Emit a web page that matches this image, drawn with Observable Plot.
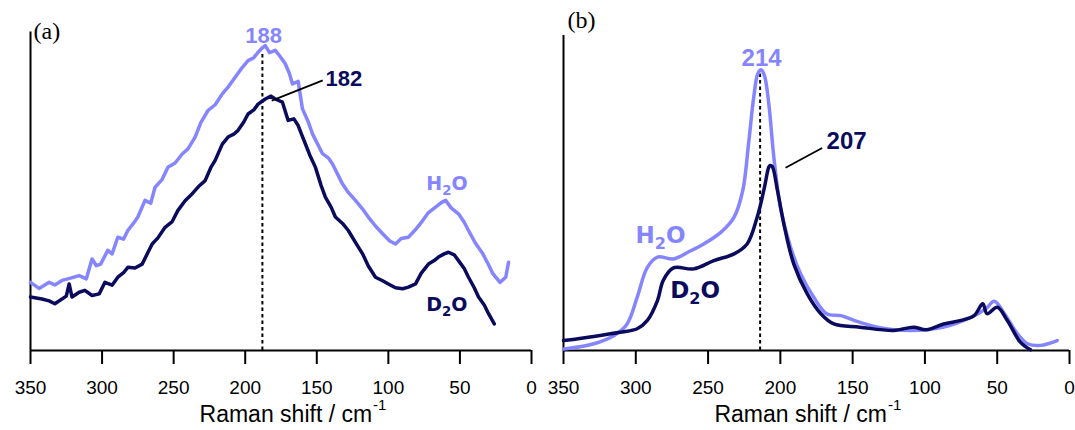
<!DOCTYPE html>
<html><head><meta charset="utf-8">
<script src="https://cdn.jsdelivr.net/npm/d3@7"></script>
<script src="https://cdn.jsdelivr.net/npm/@observablehq/plot@0.6"></script>
<style>
body{margin:0;background:#fff}
#wrap{display:flex;width:1075px;height:430px;overflow:hidden}
#wrap svg{overflow:visible;display:block}
</style>
</head><body><div id="wrap"></div>
<script>
const xTicks = [350, 300, 250, 200, 150, 100, 50, 0];
const colorH2O = "#8585ff";
const colorD2O = "#0b0b5e";
const axisTitle = "Raman shift / cm";
const axisTitleSup = "-1";

// ---- panel (a) ----
const aH2OShift = [350,344,337,333,328,322,316,311,307,304,301,296,293,289,285,282,278,275,270,266,263,258,254,249,244,240,235,231,226,221,216,212,207,203,198,194,191,188,186,183,179,176,172,169,167,163,160,156,153,146,142,139,132,128,123,118,114,109,104,99,95,91,86,81,76,72,67,63,60,56,51,47,44,39,34,30,27,22,18,16];
const aH2OInt   = [21.3,19.4,21.3,20.5,21.9,22.6,23.4,22.4,28.6,26.5,27,31.3,30.2,35.4,34.8,37.5,39.8,41.7,46.9,46,51,53.5,57.3,58.6,61.4,63,66.7,71.2,75,76.8,80.2,82.3,85.4,87.9,90.6,91.5,93.2,94.6,95.3,93.1,93.8,92.1,89.6,86.4,83.3,84.1,75.5,71.5,67.7,61.5,60.2,58.3,52,49.4,46.9,44.2,41.7,38.9,36.5,34.2,33.3,35,35.4,37.8,40.6,43.1,44.8,46.2,46.9,44.5,42.7,40.1,37.5,33.4,30.2,26.8,24,21.3,22.9,27.6];
const aD2OShift = [350,342,337,333,325,323,321,316,312,307,302,298,293,289,285,282,277,272,268,265,261,256,251,247,242,237,232,228,224,221,216,212,208,205,201,198,194,191,186,182,179,174,170,166,163,160,158,155,151,147,144,140,137,132,128,123,118,114,109,104,100,95,90,86,81,77,72,68,65,61,58,54,51,47,44,40,37,33,30,26];
const aD2OInt   = [16.7,16.1,15.5,14.6,17,20.8,16.7,18.2,18.8,17.2,17.7,21.3,20.4,22.9,24.3,26,25.8,27,30.6,33.3,35.2,38.5,40.3,43.8,46.8,49,51.5,53.1,57.2,59.4,64.5,66.7,67.6,68.8,71.4,73.9,75.2,77,78.6,79.5,78.6,77.6,71.9,72.4,70.3,66.8,64.6,61.2,57.3,51.6,47.9,44.8,41.7,39.7,37.5,33.8,30.2,26.4,22.9,21.8,20.8,19.6,19.3,19.8,20.8,24.2,27,28.1,29.2,30.2,30.7,29.9,28.1,25.6,22.9,19.6,16.7,14.2,11.5,8.3];
const aPeakH2O = 188, aPeakD2O = 182;

// ---- panel (b) ----
const bH2OShift = [350,347,329,315,306,299,292,285,274,264,253,241,232,226,222,218.4,215.6,213.3,211,208,204.5,200,193,186,177,168,158,149,133,110,87,68,58,52,45,36,29,20,8.5];
const bH2OInt   = [0.5,0.6,2.1,4.7,8.3,16.7,26,29.2,28.6,30.7,33.3,37,41.7,50,64.6,79.2,86.5,87.7,85.9,77.1,60.4,44.8,32.3,24,16.7,11.5,10.9,9.4,7.3,6.25,7.3,10.4,13,15.4,11.5,5.2,2.1,1.6,3.1];
const bD2OShift = [350,329,311,299,292,285,281,274,260,246,232,223,216,211,208,207,205.6,202,197.6,190.7,181.4,172,163,145,121.5,108,99,87,75,66,60,57,50,43,34,27];
const bD2OInt   = [3.1,4.4,5.7,6.8,9.4,15.6,21.9,25.8,25.5,28.1,30.2,33.3,41.7,51,57.3,57.8,57.5,50,39.6,27,17.7,11.5,8.3,7.3,6.25,7.3,6.5,8.3,9.4,10.9,14.6,11.5,13.5,9.4,2.6,0.2];
const bPeakH2O = 214, bPeakD2O = 207;

const rows = (xs, ys) => xs.map((x, i) => ({x, y: ys[i]}));

function panel(p) {
  const fam = "'Liberation Sans', Arial, sans-serif";
  const svg = Plot.plot({
    width: p.width, height: 430,
    marginLeft: p.marginLeft, marginRight: p.marginRight, marginTop: 30, marginBottom: 80,
    x: {domain: [350, 0], label: null, axis: null},
    y: {domain: [0, 100], label: null, axis: null},
    style: {fontFamily: fam, fontSize: "19px", color: "black", background: "white", overflow: "visible"},
    marks: [
      Plot.ruleY([0], {x1: 350, x2: 0, stroke: "black", strokeWidth: 2}),
      Plot.ruleX([350], {y1: 0, y2: p.axisTop, stroke: "black", strokeWidth: 2}),
      Plot.axisX({ticks: xTicks, tickSize: 14, tickPadding: 16, strokeWidth: 2, fontSize: 19, label: null, tickFormat: d => String(d)}),
      Plot.ruleX([p.dashX], {y1: 0, y2: p.dashTop, stroke: "black", strokeWidth: 2, strokeDasharray: "3.5,3"}),
      Plot.line(rows(p.h2oX, p.h2oY), {x: "x", y: "y", stroke: colorH2O, strokeWidth: 3.5, curve: p.curve, strokeLinejoin: "round"}),
      Plot.line(rows(p.d2oX, p.d2oY), {x: "x", y: "y", stroke: colorD2O, strokeWidth: 3.5, curve: p.curve, strokeLinejoin: "round"}),
      Plot.link([p.leader], {x1: "x1", y1: "y1", x2: "x2", y2: "y2", stroke: "black", strokeWidth: 1.8}),
      Plot.text([p.tag], {x: "x", y: "y", text: "t", textAnchor: "start", lineAnchor: "bottom", fontFamily: "'Liberation Serif', 'Times New Roman', serif", fontSize: 24, fill: "black"}),
      Plot.text([p.numH2O], {x: "x", y: "y", text: "t", lineAnchor: "middle", fontWeight: "bold", fontSize: p.numFs, fill: colorH2O}),
      Plot.text([p.numD2O], {x: "x", y: "y", text: "t", lineAnchor: "middle", fontWeight: "bold", fontSize: p.numFs, fill: colorD2O}),
      Plot.text([p.labH2O], {x: "x", y: "y", text: "t", lineAnchor: "middle", fontWeight: "bold", fontFamily: "'DejaVu Sans', Verdana, sans-serif", fontSize: p.labFs, fill: colorH2O}),
      Plot.text([p.labD2O], {x: "x", y: "y", text: "t", lineAnchor: "middle", fontWeight: "bold", fontFamily: "'DejaVu Sans', Verdana, sans-serif", fontSize: p.labFs, fill: colorD2O}),
      Plot.text([p.title], {x: "x", y: "y", text: "t", textAnchor: "start", lineAnchor: "bottom", fontSize: 23, fill: "black"})
    ]
  });
  enrich(svg);
  return svg;
}

const NS = "http://www.w3.org/2000/svg";
function tsp(parent, txt, attrs) {
  const s = document.createElementNS(NS, "tspan");
  s.textContent = txt;
  for (const k in attrs) s.setAttribute(k, attrs[k]);
  parent.appendChild(s);
}
function enrich(svg) {
  svg.querySelectorAll("text").forEach(t => {
    const s = t.textContent;
    const g = t.closest("g[font-size]");
    const fs = g ? parseFloat(g.getAttribute("font-size")) : 19;
    if (/^[HD]2O$/.test(s)) {
      t.textContent = "";
      tsp(t, s[0], {});
      tsp(t, "2", {"font-size": (fs * 0.7).toFixed(1), dy: (fs * 0.26).toFixed(1)});
      tsp(t, "O", {dy: (-fs * 0.26).toFixed(1)});
    } else if (s === axisTitle) {
      tsp(t, axisTitleSup, {"font-size": 15, dy: -11.5, dx: 1});
    }
  });
}

const wrap = document.getElementById("wrap");
wrap.appendChild(panel({
  width: 537, marginLeft: 30, marginRight: 6, axisTop: 99.5,
  curve: "linear",
  h2oX: aH2OShift, h2oY: aH2OInt, d2oX: aD2OShift, d2oY: aD2OInt,
  dashX: aPeakH2O, dashTop: 92.6,
  leader: {x1: 181.5, y1: 78.1, x2: 145.8, y2: 84.4},
  tag: {x: 347.9, y: 97.5, t: "(a)"},
  numFs: 22, labFs: 19,
  numH2O: {x: 187.1, y: 98.4, t: String(aPeakH2O)},
  numD2O: {x: 131.1, y: 84.8, t: String(aPeakD2O)},
  labH2O: {x: 59.1, y: 52, t: "H2O"},
  labD2O: {x: 59.1, y: 14.2, t: "D2O"},
  title: {x: 231.9, y: -22.2, t: axisTitle}
}));
wrap.appendChild(panel({
  width: 538, marginLeft: 26, marginRight: 6, axisTop: 98.4,
  curve: "catmull-rom",
  h2oX: bH2OShift, h2oY: bH2OInt, d2oX: bD2OShift, d2oY: bD2OInt,
  dashX: bPeakH2O, dashTop: 86.5,
  leader: {x1: 196.4, y1: 57.1, x2: 171.1, y2: 63.3},
  tag: {x: 347.2, y: 100.9, t: "(b)"},
  numFs: 24, labFs: 23,
  numH2O: {x: 213, y: 91.25, t: String(bPeakH2O)},
  numD2O: {x: 154.2, y: 65.5, t: String(bPeakD2O)},
  labH2O: {x: 282.9, y: 35.9, t: "H2O"},
  labD2O: {x: 259, y: 18.75, t: "D2O"},
  title: {x: 245.6, y: -22.2, t: axisTitle}
}));
</script>
</body></html>
